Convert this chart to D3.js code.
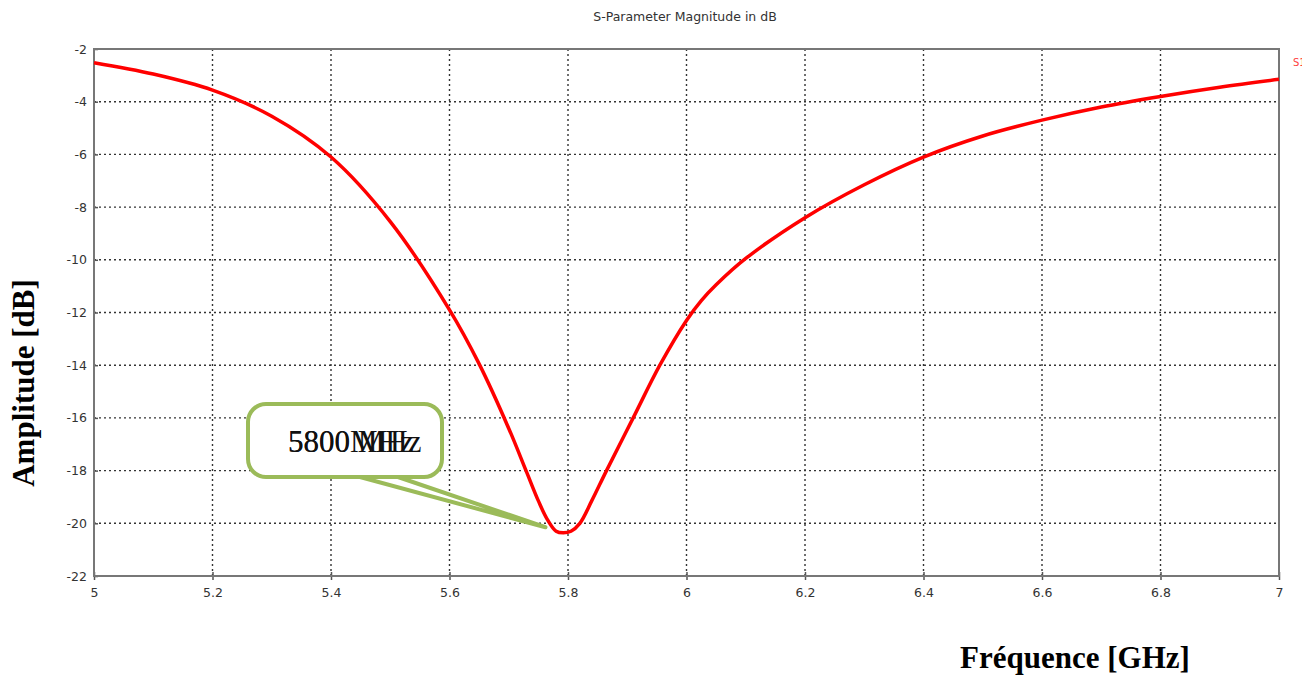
<!DOCTYPE html>
<html>
<head>
<meta charset="utf-8">
<script src="https://cdn.jsdelivr.net/npm/d3@7"></script>
<style>
  body { margin: 0; background: #fff; }
  svg { display: block; }
</style>
</head>
<body>
<div id="chart"></div>
<script>
// values (frequency in GHz, magnitude in dB)
const freqs = [5.0, 5.1, 5.2, 5.3, 5.4, 5.5, 5.6, 5.65, 5.7, 5.73, 5.75, 5.765, 5.78, 5.792, 5.805, 5.82, 5.84, 5.865,
  5.91, 5.955, 6.0, 6.025, 6.05, 6.1, 6.2, 6.3, 6.4, 6.5, 6.6, 6.7, 6.8, 6.9, 7.0];
const s11 = [-2.52, -2.95, -3.56, -4.55, -6.1, -8.55, -11.9, -13.95, -16.4, -18.05, -19.15, -19.85, -20.3, -20.36, -20.3, -20.0, -19.15, -18.0,
  -16.0, -14.0, -12.3, -11.55, -10.95, -9.95, -8.4, -7.15, -6.1, -5.3, -4.7, -4.2, -3.8, -3.45, -3.15];
const xTicks = [5, 5.2, 5.4, 5.6, 5.8, 6, 6.2, 6.4, 6.6, 6.8, 7];
const yTicks = [-2, -4, -6, -8, -10, -12, -14, -16, -18, -20, -22];

const width = 1302, height = 677;
const margin = { top: 49, right: 23, bottom: 101, left: 94 };
const w = width - margin.left - margin.right;
const h = height - margin.top - margin.bottom;

const svg = d3.select("#chart").append("svg")
  .attr("width", width)
  .attr("height", height);

const g = svg.append("g")
  .attr("transform", `translate(${margin.left},${margin.top})`);

const x = d3.scaleLinear().domain([5, 7]).range([0, w]);
const y = d3.scaleLinear().domain([-22, -2]).range([h, 0]);

// dotted grid
g.append("g")
  .selectAll("line")
  .data(xTicks.slice(1, -1))
  .join("line")
  .attr("x1", d => x(d)).attr("x2", d => x(d))
  .attr("y1", 0).attr("y2", h)
  .attr("stroke", "#333").attr("stroke-width", 1.4).attr("stroke-dasharray", "2,3");
g.append("g")
  .selectAll("line")
  .data(yTicks.slice(1, -1))
  .join("line")
  .attr("y1", d => y(d)).attr("y2", d => y(d))
  .attr("x1", 0).attr("x2", w)
  .attr("stroke", "#333").attr("stroke-width", 1.4).attr("stroke-dasharray", "2,3");

// axes
const xAxis = g.append("g")
  .attr("transform", `translate(0,${h})`)
  .call(d3.axisBottom(x).tickValues(xTicks).tickSize(4).tickPadding(8).tickFormat(d3.format("")));
const yAxis = g.append("g")
  .call(d3.axisLeft(y).tickValues(yTicks).tickSize(4).tickPadding(3).tickFormat(d => d));

[xAxis, yAxis].forEach(a => {
  a.select(".domain").remove();
  a.selectAll("line").attr("stroke", "#555").attr("stroke-width", 1.5);
  a.selectAll("text").attr("fill", "#333").style("font-family", "'DejaVu Sans', sans-serif").style("font-size", "12.5px");
});
xAxis.selectAll("line").attr("y1", -4);
yAxis.selectAll("line").attr("x2", 4);

// frame
g.append("rect")
  .attr("width", w).attr("height", h)
  .attr("fill", "none").attr("stroke", "#777").attr("stroke-width", 2);

// curve
const line = d3.line()
  .x((d, i) => x(freqs[i]))
  .y(d => y(d))
  .curve(d3.curveCatmullRom.alpha(0.5));

g.append("path")
  .datum(s11)
  .attr("fill", "none")
  .attr("stroke", "#ff0000")
  .attr("stroke-width", 3.5)
  .attr("d", line);

// callout
const tipF = 5.762, tipV = -20.15;
const tx = x(tipF), ty = y(tipV);
const box = { x: 248 - margin.left, y: 404 - margin.top, w: 194, h: 73 };
const callout = g.append("g");
callout.append("path")
  .attr("d", `M${box.x + 112},${box.y + box.h} L${tx},${ty} L${box.x + 150},${box.y + box.h} Z`)
  .attr("fill", "#fff").attr("stroke", "#9bbb59").attr("stroke-width", 4).attr("stroke-linejoin", "round");
callout.append("rect")
  .attr("x", box.x).attr("y", box.y).attr("width", box.w).attr("height", box.h)
  .attr("rx", 18).attr("ry", 18)
  .attr("fill", "#fff").attr("stroke", "#9bbb59").attr("stroke-width", 4);
callout.append("text")
  .attr("x", box.x + 40).attr("y", box.y + 48)
  .style("font-family", "'Liberation Serif', serif").style("font-size", "31px")
  .attr("fill", "#111")
  .text("5800 MHz");
callout.append("text")
  .attr("x", box.x + 40).attr("y", box.y + 48)
  .style("font-family", "'Liberation Serif', serif").style("font-size", "31px")
  .attr("fill", "#111")
  .text("5800MHz");

// title
svg.append("text")
  .attr("x", 685).attr("y", 21)
  .attr("text-anchor", "middle")
  .style("font-family", "'DejaVu Sans', sans-serif").style("font-size", "12.5px")
  .attr("fill", "#333")
  .text("S-Parameter Magnitude in dB");

// clipped legend remnant at the right edge
svg.append("text")
  .attr("x", 1293).attr("y", 66)
  .style("font-family", "'DejaVu Sans', sans-serif").style("font-size", "10px")
  .attr("fill", "#ff4040")
  .text("S1,1");

// axis labels
svg.append("text")
  .attr("x", 1075).attr("y", 668)
  .attr("text-anchor", "middle")
  .style("font-family", "'Liberation Serif', serif").style("font-size", "31px").style("font-weight", "bold")
  .attr("fill", "#000")
  .text("Fréquence [GHz]");

svg.append("text")
  .attr("transform", "translate(34,383) rotate(-90)")
  .attr("text-anchor", "middle")
  .style("font-family", "'Liberation Serif', serif").style("font-size", "31px").style("font-weight", "bold")
  .attr("fill", "#000")
  .text("Amplitude [dB]");
</script>
</body>
</html>
